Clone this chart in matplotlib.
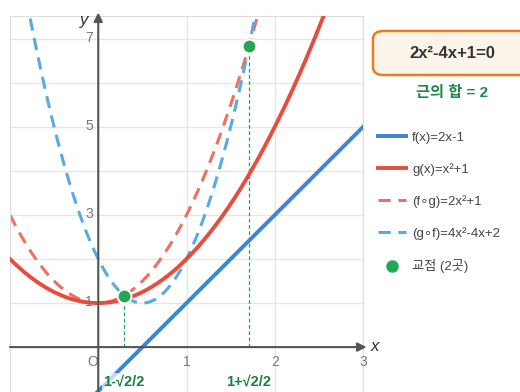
import numpy as np
import matplotlib
matplotlib.use("Agg")
import matplotlib.pyplot as plt
from matplotlib.lines import Line2D
from matplotlib.patches import FancyBboxPatch

plt.rcParams['font.family'] = ['Liberation Sans', 'Noto Sans CJK KR', 'DejaVu Sans']

# polynomial coefficients (highest power first)
f_coef = [2, -1]          # f(x) = 2x - 1
g_coef = [1, 0, 1]        # g(x) = x^2 + 1
fg_coef = [2, 0, 1]       # (f∘g)(x) = 2x^2 + 1
gf_coef = [4, -4, 2]      # (g∘f)(x) = 4x^2 - 4x + 2

root_x = [1 - np.sqrt(2) / 2, 1 + np.sqrt(2) / 2]
root_labels = ["1-√2/2", "1+√2/2"]
legend_labels = ["f(x)=2x-1", "g(x)=x²+1", "(f∘g)=2x²+1", "(g∘f)=4x²-4x+2", "교점 (2곳)"]
x_ticks = [1, 2, 3]
y_ticks = [1, 3, 5, 7]

c_f = "#3a85d6"
c_g = "#e74c3c"
c_fg = "#ef6f63"
c_gf = "#58a9e4"
c_pt = "#22a852"

fig = plt.figure(figsize=(5.2, 3.92), dpi=100)
ax = fig.add_axes([10 / 520, 0, 353 / 520, 376 / 392])
ax.set_xlim(-1, 3)
ax.set_ylim(-1.02, 7.52)

for v in range(0, 4):
    ax.axvline(v, color="#e6e6e6", lw=1, zorder=0)
for v in range(1, 8):
    ax.axhline(v, color="#e6e6e6", lw=1, zorder=0)
for s in ax.spines.values():
    s.set_color("#dddddd")
ax.set_xticks([])
ax.set_yticks([])

xs = np.linspace(-1, 3, 600)
ax.plot(xs, np.polyval(f_coef, xs), color=c_f, lw=2.8, zorder=3)
ax.plot(xs, np.polyval(g_coef, xs), color=c_g, lw=2.8, zorder=3)
ax.plot(xs, np.polyval(fg_coef, xs), color=c_fg, lw=2.2, ls=(0, (4, 2.5)), zorder=2)
ax.plot(xs, np.polyval(gf_coef, xs), color=c_gf, lw=2.2, ls=(0, (4, 2.5)), zorder=2)

# axes with arrows
ax.annotate("", xy=(3.04, 0), xytext=(-1, 0), annotation_clip=False,
            arrowprops=dict(arrowstyle="-|>", color="#555555", lw=1.5, mutation_scale=13,
                            shrinkA=0, shrinkB=0), zorder=4)
ax.annotate("", xy=(0, 7.6), xytext=(0, -1.02), annotation_clip=False,
            arrowprops=dict(arrowstyle="-|>", color="#555555", lw=1.5, mutation_scale=13,
                            shrinkA=0, shrinkB=0), zorder=4)
ax.text(3.14, 0.02, "x", style="italic", fontsize=12, color="#333333", ha="center", va="center",
        clip_on=False)
ax.text(-0.16, 7.42, "y", style="italic", fontsize=12, color="#333333", ha="center", va="center")
ax.text(-0.06, -0.33, "O", fontsize=10, color="#777777", ha="center", va="center")
for t in x_ticks:
    ax.text(t, -0.33, str(t), fontsize=10, color="#777777", ha="center", va="center")
for t in y_ticks:
    ax.text(-0.06, t + 0.03, str(t), fontsize=10, color="#777777", ha="right", va="center")

# intersection points
for rx, lab in zip(root_x, root_labels):
    ry = np.polyval(fg_coef, rx)
    ax.plot([rx, rx], [0, ry], color=c_pt, lw=0.9, ls=(0, (3, 2)), zorder=2)
    ax.plot(rx, ry, "o", ms=10, color=c_pt, mec="white", mew=1.5, zorder=5)
    ax.text(rx, -0.78, lab, fontsize=10.5, fontweight="bold", color="#1e7e3e", ha="center",
            va="center", zorder=6,
            bbox=dict(boxstyle="square,pad=0.1", fc="white", ec="none", alpha=0.7))

# equation box
box = FancyBboxPatch((373 / 520, 1 - 75 / 392), 160 / 520, 44 / 392,
                     boxstyle="round,pad=0,rounding_size=0.02", transform=fig.transFigure,
                     fc="#fbf4e8", ec="#e67e22", lw=1.8, clip_on=False)
fig.patches.append(box)
fig.text(452 / 520, 1 - 53 / 392, "2x²-4x+1=0", fontsize=12, fontweight="bold", color="#333333",
         ha="center", va="center")
fig.text(452 / 520, 1 - 93 / 392, "근의 합 = 2", fontsize=11, fontweight="bold", color="#1e8a45",
         ha="center", va="center")

handles = [
    Line2D([], [], color=c_f, lw=2.8),
    Line2D([], [], color=c_g, lw=2.8),
    Line2D([], [], color=c_fg, lw=2.2, ls=(0, (4, 2.5))),
    Line2D([], [], color=c_gf, lw=2.2, ls=(0, (4, 2.5))),
    Line2D([], [], color=c_pt, marker="o", ls="none", ms=8),
]
leg = fig.legend(handles, legend_labels, loc="upper left", bbox_to_anchor=(366 / 520, 1 - 120 / 392),
                 frameon=False, fontsize=9.5, labelspacing=1.45, handlelength=2.1, handletextpad=0.5)
for t in leg.get_texts():
    t.set_color("#444444")

fig.savefig("out.png", dpi=100)
